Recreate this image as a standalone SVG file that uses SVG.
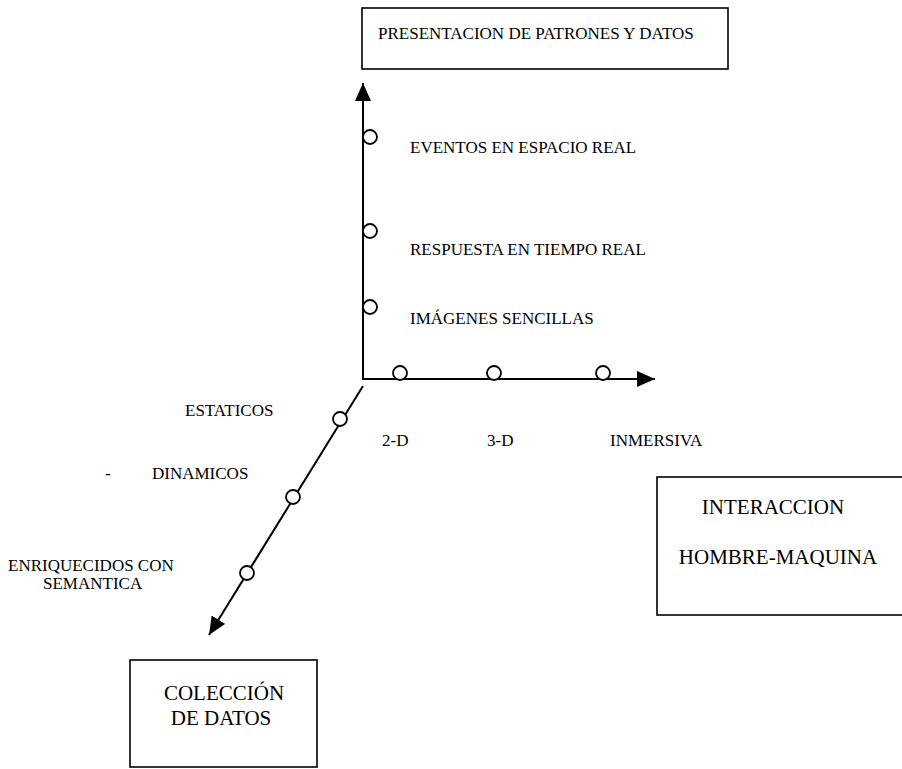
<svg xmlns="http://www.w3.org/2000/svg" width="902" height="769" viewBox="0 0 902 769">
<style>
.box{fill:#fff;stroke:#000;stroke-width:1.6}
.ax{stroke:#000;stroke-width:2;fill:none}
.pt{fill:#fff;stroke:#000;stroke-width:1.8}
text{font-family:"Liberation Serif","Times New Roman",serif;fill:#000}
.lbl{font-size:17px}
.big{font-size:21px}
.top{font-size:17px}
</style>
<defs>
<marker id="arr" markerUnits="userSpaceOnUse" markerWidth="18" markerHeight="16" refX="18" refY="8" orient="auto">
<path d="M0,0 L18,8 L0,16 z" fill="#000"/>
</marker>
</defs>
<rect width="902" height="769" fill="#fff"/>
<g id="connectors">
<line class="ax" x1="363" y1="380" x2="363" y2="83" marker-end="url(#arr)"/>
<line class="ax" x1="363" y1="379" x2="655" y2="379" marker-end="url(#arr)"/>
<line class="ax" x1="363" y1="386" x2="209" y2="635" marker-end="url(#arr)"/>
</g>
<g id="presentacion">
<rect class="box" x="362" y="8" width="366" height="61"/>
<text class="top" x="378" y="39">PRESENTACION DE PATRONES Y DATOS</text>
</g>
<g id="interaccion">
<rect class="box" x="657" y="477" width="250" height="138"/>
<text class="big" x="773" y="514" text-anchor="middle">INTERACCION</text>
<text class="big" x="778" y="564" text-anchor="middle">HOMBRE-MAQUINA</text>
</g>
<g id="coleccion">
<rect class="box" x="130" y="660" width="187" height="107"/>
<text class="big" x="224" y="700" text-anchor="middle">COLECCIÓN</text>
<text class="big" x="221" y="725" text-anchor="middle">DE DATOS</text>
</g>
<g id="eventos">
<circle class="pt" cx="370" cy="137" r="7"/>
<text class="lbl" x="410" y="153">EVENTOS EN ESPACIO REAL</text>
</g>
<g id="respuesta">
<circle class="pt" cx="370" cy="231" r="7"/>
<text class="lbl" x="410" y="255">RESPUESTA EN  TIEMPO REAL</text>
</g>
<g id="imagenes">
<circle class="pt" cx="370" cy="307" r="7"/>
<text class="lbl" x="410" y="324">IMÁGENES SENCILLAS</text>
</g>
<g id="d2">
<circle class="pt" cx="400" cy="373" r="7"/>
<text class="lbl" x="382" y="446">2-D</text>
</g>
<g id="d3">
<circle class="pt" cx="494" cy="373" r="7"/>
<text class="lbl" x="487" y="446">3-D</text>
</g>
<g id="inmersiva">
<circle class="pt" cx="603" cy="373" r="7"/>
<text class="lbl" x="610" y="446">INMERSIVA</text>
</g>
<g id="estaticos">
<circle class="pt" cx="340" cy="419" r="7"/>
<text class="lbl" x="185" y="416">ESTATICOS</text>
</g>
<g id="dinamicos">
<circle class="pt" cx="293" cy="497" r="7"/>
<text class="lbl" x="105" y="479">-</text>
<text class="lbl" x="152" y="479">DINAMICOS</text>
</g>
<g id="enriquecidos">
<circle class="pt" cx="247" cy="573" r="7"/>
<text class="lbl" x="8" y="571">ENRIQUECIDOS CON</text>
<text class="lbl" x="43" y="589">SEMANTICA</text>
</g>
</svg>
